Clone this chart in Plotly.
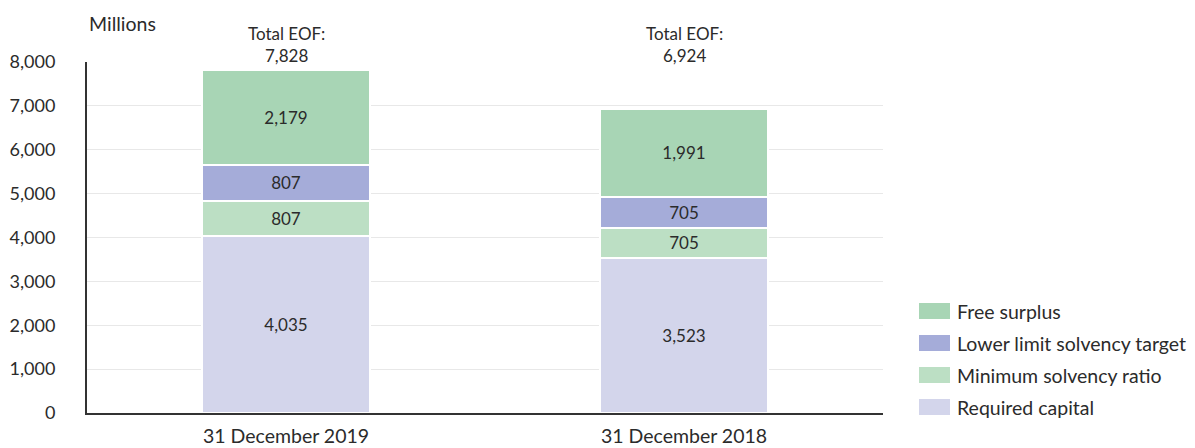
import plotly.graph_objects as go

categories = ["31 December 2019", "31 December 2018"]
required_capital = [4035, 3523]
minimum_solvency = [807, 705]
lower_limit_target = [807, 705]
free_surplus = [2179, 1991]
totals = [7828, 6924]

series = [
    ("Required capital", required_capital, "#d3d5eb"),
    ("Minimum solvency ratio", minimum_solvency, "#bcdfc4"),
    ("Lower limit solvency target", lower_limit_target, "#a5acd9"),
    ("Free surplus", free_surplus, "#a8d5b5"),
]

FONT = "Lato, Noto Sans, sans-serif"
TEXT = "#2b2b2b"
VALUE_SIZE = 17
LABEL_SIZE = 19.5
YTICK_SIZE = 18

fig = go.Figure()
for name, vals, col in series:
    fig.add_trace(go.Bar(
        name=name, x=categories, y=vals,
        marker=dict(color=col, line=dict(color="white", width=2)),
        text=[f"{v:,}" for v in vals], textposition="inside",
        insidetextanchor="middle",
        textfont=dict(family=FONT, size=VALUE_SIZE, color=TEXT),
        width=0.42, showlegend=False,
    ))

# Total labels pinned over the top gridline
for cat, tot in zip(categories, totals):
    fig.add_annotation(
        x=cat, y=1, xref="x", yref="paper", text=f"Total EOF:<br>{tot:,}",
        showarrow=False, yanchor="middle", yshift=18,
        bgcolor="white", borderpad=2,
        font=dict(family=FONT, size=VALUE_SIZE, color=TEXT),
    )

fig.add_annotation(
    x=0, y=1, xref="paper", yref="paper", text="Millions",
    showarrow=False, xanchor="left", yanchor="middle", yshift=39,
    font=dict(family=FONT, size=LABEL_SIZE, color=TEXT),
)

# Legend drawn as swatches with labels, top entry first
legend_top_px = 311
legend_step_px = 32
plot_h = 448 - 62 - 35
for i, (name, _, col) in enumerate(reversed(series)):
    yc = 1 - (legend_top_px + i * legend_step_px - 62) / plot_h
    fig.add_shape(
        type="rect", xref="paper", yref="paper",
        x0=(919 - 87) / 796, x1=(950 - 87) / 796,
        y0=yc - 8 / plot_h, y1=yc + 8 / plot_h,
        fillcolor=col, line=dict(width=0),
    )
    fig.add_annotation(
        x=(955 - 87) / 796, y=yc, xref="paper", yref="paper", text=name,
        showarrow=False, xanchor="left", yanchor="middle",
        font=dict(family=FONT, size=LABEL_SIZE, color=TEXT),
    )

fig.update_layout(
    barmode="stack",
    width=1195, height=448,
    margin=dict(l=87, r=312, t=62, b=35),
    plot_bgcolor="white", paper_bgcolor="white",
    font=dict(family=FONT, size=VALUE_SIZE, color=TEXT),
    showlegend=False,
    xaxis=dict(
        showline=True, linecolor="#333333", linewidth=2,
        showgrid=False, ticks="", ticklabelstandoff=5, automargin=False,
        tickfont=dict(family=FONT, size=LABEL_SIZE, color=TEXT),
    ),
    yaxis=dict(
        range=[0, 8000], tickvals=list(range(0, 8001, 1000)),
        tickformat=",d", showgrid=True, gridcolor="#e8e8e8", gridwidth=1,
        showline=True, linecolor="#333333", linewidth=2,
        zeroline=False, ticks="", ticklabelstandoff=26, automargin=False,
        tickfont=dict(family=FONT, size=YTICK_SIZE, color=TEXT),
    ),
)

fig.write_html("out.html")
